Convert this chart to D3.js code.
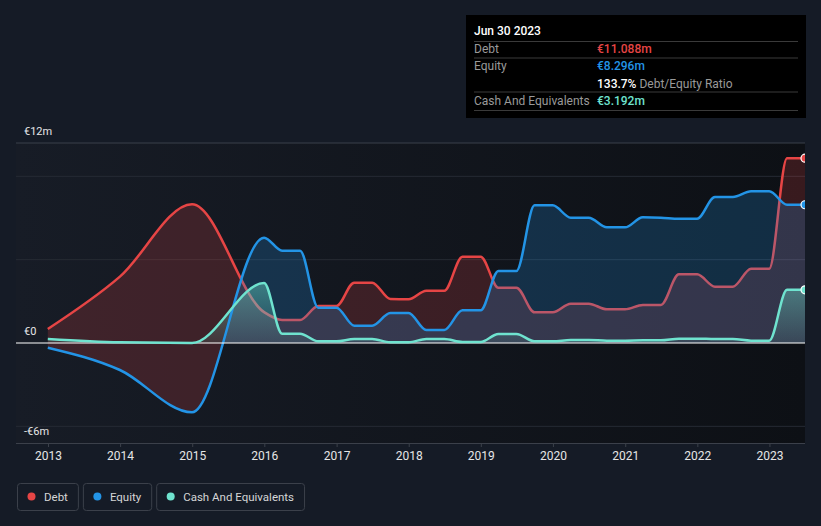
<!DOCTYPE html>
<html>
<head>
<meta charset="utf-8">
<script src="https://cdn.jsdelivr.net/npm/d3@7"></script>
<style>
  body { margin: 0; background: #151b26; font-family: Roboto, "Open Sans", sans-serif; }
  svg { display: block; }
</style>
</head>
<body>
<div id="chart"></div>
<script>
// data (millions of euro)
const dates = [
  "2012-12-31", "2013-12-31", "2014-12-31", "2015-12-31",
  "2016-03-31", "2016-06-30", "2016-09-30", "2016-12-31",
  "2017-03-31", "2017-06-30", "2017-09-30", "2017-12-31",
  "2018-03-31", "2018-06-30", "2018-09-30", "2018-12-31",
  "2019-03-31", "2019-06-30", "2019-09-30", "2019-12-31",
  "2020-03-31", "2020-06-30", "2020-09-30", "2020-12-31",
  "2021-03-31", "2021-06-30", "2021-09-30", "2021-12-31",
  "2022-03-31", "2022-06-30", "2022-09-30", "2022-12-31",
  "2023-03-31", "2023-06-30"
]
const debt = [
  0.84, 3.98, 8.32, 1.85,
  1.38, 1.38, 2.22, 2.22,
  3.62, 3.62, 2.64, 2.62,
  3.14, 3.14, 5.18, 5.18,
  3.32, 3.32, 1.84, 1.84,
  2.36, 2.36, 2.02, 2.02,
  2.28, 2.28, 4.12, 4.12,
  3.38, 3.38, 4.46, 4.46,
  11.088, 11.088
]
const equity = [
  -0.28, -1.62, -4.16, 6.32,
  5.54, 5.54, 2.12, 2.12,
  1.04, 1.04, 1.8, 1.8,
  0.78, 0.78, 1.96, 1.96,
  4.32, 4.32, 8.26, 8.26,
  7.52, 7.52, 6.94, 6.94,
  7.54, 7.52, 7.46, 7.46,
  8.76, 8.76, 9.1, 9.1,
  8.296, 8.296
]
const cash = [
  0.24, 0.04, 0.0, 3.6,
  0.56, 0.56, 0.1, 0.1,
  0.24, 0.24, 0.04, 0.04,
  0.24, 0.24, 0.06, 0.06,
  0.54, 0.54, 0.1, 0.1,
  0.18, 0.18, 0.14, 0.14,
  0.16, 0.16, 0.26, 0.26,
  0.24, 0.24, 0.14, 0.14,
  3.192, 3.192
]
const yearTicks = [2013, 2014, 2015, 2016, 2017, 2018, 2019, 2020, 2021, 2022, 2023]
const yLabelValues = [12, 0, -6]
const gridValues = [-5, 5, 10]
const seriesNames = ["Debt", "Equity", "Cash And Equivalents"]

const colors = { debt: "#e64545", equity: "#2394e6", cash: "#6fe3cf" }

const W = 821, H = 526
const plot = { left: 16, right: 805, top: 143, bottom: 443 }

const parse = d3.timeParse("%Y-%m-%d")
const rows = dates.map((d, i) => ({
  date: parse(d), debt: debt[i], equity: equity[i], cash: cash[i]
}))

const svg = d3.select("#chart")
  .append("svg")
    .attr("width", W)
    .attr("height", H)

// scales
const x = d3.scaleTime()
  .domain([parse("2012-07-23"), parse("2023-06-30")])
  .range([plot.left, plot.right])

const y = d3.scaleLinear()
  .domain([-6, 12])
  .range([plot.bottom, plot.top])

const defs = svg.append("defs")

const bgGrad = defs.append("linearGradient").attr("id", "bgGrad")
  .attr("x1", "0").attr("x2", "1").attr("y1", "0").attr("y2", "0")
bgGrad.append("stop").attr("offset", "0").attr("stop-color", "#171c26")
bgGrad.append("stop").attr("offset", "1").attr("stop-color", "#0d1015")

const cashGrad = defs.append("linearGradient").attr("id", "cashGrad")
  .attr("x1", "0").attr("x2", "0").attr("y1", "0").attr("y2", "1")
cashGrad.append("stop").attr("offset", "0").attr("stop-color", colors.cash).attr("stop-opacity", 0.42)
cashGrad.append("stop").attr("offset", "1").attr("stop-color", colors.cash).attr("stop-opacity", 0.1)

function clip(id, y0, y1) {
  defs.append("clipPath").attr("id", id)
    .append("rect")
      .attr("x", plot.left).attr("y", y0)
      .attr("width", plot.right - plot.left).attr("height", y1 - y0)
}
clip("plotClip", plot.top - 10, plot.bottom)
clip("aboveZero", plot.top - 10, y(0))
clip("belowZero", y(0), plot.bottom)

// plot background
svg.append("rect")
  .attr("x", plot.left).attr("y", plot.top)
  .attr("width", plot.right - plot.left).attr("height", plot.bottom - plot.top)
  .attr("fill", "url(#bgGrad)")

// grid
svg.append("g")
  .selectAll("line")
  .data(gridValues)
  .enter().append("line")
    .attr("x1", plot.left).attr("x2", plot.right)
    .attr("y1", d => y(d)).attr("y2", d => y(d))
    .attr("stroke", "#262b34").attr("stroke-width", 1)

svg.append("line")
  .attr("x1", plot.left).attr("x2", plot.right)
  .attr("y1", y(12)).attr("y2", y(12))
  .attr("stroke", "#3b404a")

// x axis
const xAxis = svg.append("g")
  .attr("transform", "translate(0," + plot.bottom + ")")
  .call(d3.axisBottom(x)
    .tickValues(yearTicks.map(yr => new Date(yr, 0, 1)))
    .tickFormat(d3.timeFormat("%Y"))
    .tickSize(4)
    .tickSizeOuter(0))
xAxis.select(".domain").attr("stroke", "#3b404a").attr("d", "M" + plot.left + ",0.5H" + plot.right)
xAxis.selectAll(".tick line").attr("stroke", "#3b404a")
xAxis.selectAll(".tick text")
  .attr("fill", "#e6e6e6")
  .attr("font-size", 12)
  .attr("font-family", "Roboto, sans-serif")
  .attr("dy", "0.85em")

// y labels
const fmtM = v => v === 0 ? "€0" : (v < 0 ? "-" : "") + "€" + Math.abs(v) + "m"
svg.append("g")
  .selectAll("text")
  .data(yLabelValues)
  .enter().append("text")
    .attr("x", 24)
    .attr("y", d => y(d) - 8)
    .attr("fill", "#e6e6e6")
    .attr("font-size", 11)
    .text(fmtM)

// areas and lines
const g = svg.append("g").attr("clip-path", "url(#plotClip)")
const curve = d3.curveMonotoneX

const areaOf = key => d3.area().curve(curve)
  .x(d => x(d.date))
  .y0(y(0))
  .y1(d => y(d[key]))
const lineOf = key => d3.line().curve(curve).x(d => x(d.date)).y(d => y(d[key]))

// debt fill, and the negative part of equity shaded with it
g.append("path").datum(rows).attr("d", areaOf("debt"))
  .attr("fill", colors.debt).attr("fill-opacity", 0.2)
g.append("g").attr("clip-path", "url(#belowZero)")
  .append("path").datum(rows).attr("d", areaOf("equity"))
  .attr("fill", colors.debt).attr("fill-opacity", 0.2)
g.append("path").datum(rows).attr("d", lineOf("debt"))
  .attr("fill", "none").attr("stroke", colors.debt).attr("stroke-width", 2.5)

g.append("g").attr("clip-path", "url(#aboveZero)")
  .append("path").datum(rows).attr("d", areaOf("equity"))
  .attr("fill", colors.equity).attr("fill-opacity", 0.22)
g.append("path").datum(rows).attr("d", areaOf("cash"))
  .attr("fill", "url(#cashGrad)")

g.append("path").datum(rows).attr("d", lineOf("equity"))
  .attr("fill", "none").attr("stroke", colors.equity).attr("stroke-width", 2.5)

// zero line
g.append("line")
  .attr("x1", plot.left).attr("x2", plot.right)
  .attr("y1", y(0)).attr("y2", y(0))
  .attr("stroke", "#ffffff").attr("stroke-width", 1.2)

g.append("path").datum(rows).attr("d", lineOf("cash"))
  .attr("fill", "none").attr("stroke", colors.cash).attr("stroke-width", 2.5)

// end markers
const last = rows[rows.length - 1]
g.selectAll("circle.end")
  .data(["debt", "equity", "cash"])
  .enter().append("circle")
    .attr("class", "end")
    .attr("cx", x(last.date))
    .attr("cy", k => y(last[k]))
    .attr("r", 4)
    .attr("fill", k => colors[k])
    .attr("stroke", "#ffffff").attr("stroke-width", 1.2)

// tooltip box
const tip = svg.append("g").attr("transform", "translate(466,15)")
tip.append("rect").attr("width", 340).attr("height", 103).attr("fill", "#000000")
tip.append("text").attr("x", 8).attr("y", 20)
  .attr("fill", "#ffffff").attr("font-size", 12).attr("font-weight", 500)
  .text(d3.timeFormat("%b %d %Y")(last.date))

tip.selectAll("line")
  .data([26.5, 43, 77, 95.5])
  .enter().append("line")
    .attr("x1", 8).attr("x2", 332)
    .attr("y1", d => d).attr("y2", d => d)
    .attr("stroke", "#3a3a3a")

const fmtVal = v => "€" + d3.format(".3f")(v) + "m"
const tipRows = [
  { label: seriesNames[0], value: fmtVal(last.debt), color: colors.debt, y: 38 },
  { label: seriesNames[1], value: fmtVal(last.equity), color: colors.equity, y: 55 },
  { label: seriesNames[2], value: fmtVal(last.cash), color: colors.cash, y: 89.5 }
]
tipRows.forEach(r => {
  tip.append("text").attr("x", 8).attr("y", r.y)
    .attr("fill", "#9a9a9a").attr("font-size", 12).text(r.label)
  tip.append("text").attr("x", 131).attr("y", r.y)
    .attr("fill", r.color).attr("font-size", 12).attr("font-weight", 500).text(r.value)
})
const ratio = tip.append("text").attr("x", 131).attr("y", 72.5).attr("font-size", 12)
ratio.append("tspan").attr("fill", "#ffffff").attr("font-weight", 500)
  .text(d3.format(".1f")(last.debt / last.equity * 100) + "%")
ratio.append("tspan").attr("fill", "#9a9a9a").text(" Debt/Equity Ratio")

// legend
const legend = svg.append("g").attr("transform", "translate(17,483)")
let lx = 0
seriesNames.forEach((name, i) => {
  const key = ["debt", "equity", "cash"][i]
  const item = legend.append("g").attr("transform", "translate(" + lx + ",0)")
  const box = item.append("rect").attr("height", 27).attr("rx", 3)
    .attr("fill", "none").attr("stroke", "#3b404a")
  item.append("circle").attr("cx", 14.5).attr("cy", 13.5).attr("r", 4).attr("fill", colors[key])
  const t = item.append("text").attr("x", 27).attr("y", 17.5)
    .attr("fill", "#d6d6d6").attr("font-size", 11.5).text(name)
  const w = 27 + t.node().getComputedTextLength() + 10
  box.attr("width", w).attr("x", 0.5).attr("y", 0.5)
  lx += w + 5
})
</script>
</body>
</html>
